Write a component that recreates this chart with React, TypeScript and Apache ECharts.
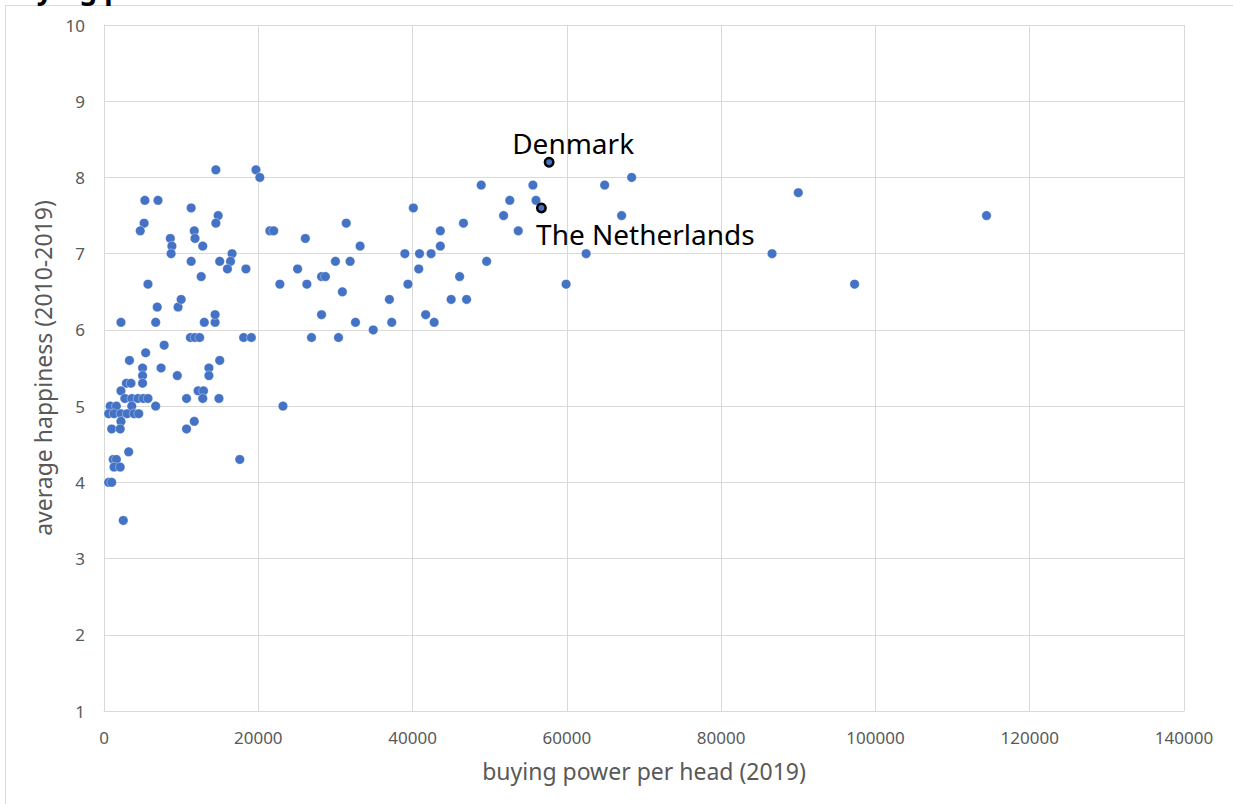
import React, { useEffect, useRef } from "react";
import * as echarts from "echarts";

const buyingPower = [
  14500, 19700, 20200, 5300, 7000, 11300, 14800, 14500, 5200, 4700,
  11700, 11800, 8600, 8800, 12800, 8700, 16600, 16400, 16000, 15000,
  11300, 18400, 12600, 5700, 6900, 9600, 10000, 2200, 6700, 13000,
  14400, 14400, 11200, 11800, 12400, 18100, 19100, 7800, 5400, 3300,
  7400, 5000, 5000, 5000, 15000, 13600, 13600, 9500, 2900, 3500,
  2200, 12200, 12900, 2700, 3600, 4400, 5100, 5700, 12800, 10700,
  14900, 800, 1600, 3600, 6700, 600, 1300, 2200, 3000, 3900,
  4500, 2200, 11700, 1000, 2100, 10700, 3200, 1200, 1600, 17600,
  1300, 2100, 600, 1000, 2500,
  21500, 22000, 26100, 33200, 31400, 25100, 30000, 31900, 22800, 26300,
  28200, 28700, 30900, 28200, 32600, 34900, 26900, 30400, 23200, 37000,
  37300, 39000, 40900, 42400, 40100, 40800, 39400, 41700, 42800, 43600,
  43600, 46600, 46100, 45000, 47000, 48900, 49600,
  51800, 52600, 53700, 55600, 56000, 59900, 62500, 64900, 68400, 67100,
  86600, 90000, 97300, 114400,
];

const happiness = [
  8.1, 8.1, 8.0, 7.7, 7.7, 7.6, 7.5, 7.4, 7.4, 7.3,
  7.3, 7.2, 7.2, 7.1, 7.1, 7.0, 7.0, 6.9, 6.8, 6.9,
  6.9, 6.8, 6.7, 6.6, 6.3, 6.3, 6.4, 6.1, 6.1, 6.1,
  6.1, 6.2, 5.9, 5.9, 5.9, 5.9, 5.9, 5.8, 5.7, 5.6,
  5.5, 5.5, 5.4, 5.3, 5.6, 5.5, 5.4, 5.4, 5.3, 5.3,
  5.2, 5.2, 5.2, 5.1, 5.1, 5.1, 5.1, 5.1, 5.1, 5.1,
  5.1, 5.0, 5.0, 5.0, 5.0, 4.9, 4.9, 4.9, 4.9, 4.9,
  4.9, 4.8, 4.8, 4.7, 4.7, 4.7, 4.4, 4.3, 4.3, 4.3,
  4.2, 4.2, 4.0, 4.0, 3.5,
  7.3, 7.3, 7.2, 7.1, 7.4, 6.8, 6.9, 6.9, 6.6, 6.6,
  6.7, 6.7, 6.5, 6.2, 6.1, 6.0, 5.9, 5.9, 5.0, 6.4,
  6.1, 7.0, 7.0, 7.0, 7.6, 6.8, 6.6, 6.2, 6.1, 7.3,
  7.1, 7.4, 6.7, 6.4, 6.4, 7.9, 6.9,
  7.5, 7.7, 7.3, 7.9, 7.7, 6.6, 7.0, 7.9, 8.0, 7.5,
  7.0, 7.8, 6.6, 7.5,
];

const highlightNames = ["Denmark", "The Netherlands"];
const highlightPower = [57700, 56700];
const highlightHappiness = [8.2, 7.6];

const titleText = "Buying power";
const xAxisTitle = "buying power per head (2019)";
const yAxisTitle = "average happiness (2010-2019)";

const FONT = '"Noto Sans", "Open Sans", sans-serif';
const GRAY = "#595959";
const GRID = "#d9d9d9";
const BLUE = "#4472C4";

export default function App() {
  const ref = useRef<HTMLDivElement>(null);

  useEffect(() => {
    if (!ref.current) return;
    const chart = echarts.init(ref.current, undefined, { renderer: "svg" });

    const mainData = buyingPower.map((x, i) => [x, happiness[i]]);
    const labelCfg = [
      { position: "top", distance: 3, offset: [24, 3] },
      { position: "bottom", distance: 2, offset: [104, 5] },
    ];
    const hlData = highlightNames.map((name, i) => ({
      name,
      value: [highlightPower[i], highlightHappiness[i]],
      label: {
        show: true,
        formatter: "{b}",
        color: "#000",
        fontSize: 28,
        fontFamily: FONT,
        ...labelCfg[i],
      },
    }));

    chart.setOption({
      animation: false,
      backgroundColor: "#fff",
      textStyle: { fontFamily: FONT },
      grid: { left: 104, top: 25, width: 1080, height: 686, containLabel: false },
      graphic: [
        {
          type: "rect",
          shape: { x: 5.5, y: 5.5, width: 1400, height: 1000 },
          style: { fill: "none", stroke: GRID, lineWidth: 1 },
          silent: true,
          z: -1,
        },
        {
          type: "text",
          x: 0,
          y: -26,
          style: {
            text: titleText,
            font: `bold 28px ${FONT}`,
            fill: "#000",
            verticalAlign: "top",
          },
        },
      ],
      xAxis: {
        type: "value",
        min: 0,
        max: 140000,
        interval: 20000,
        name: xAxisTitle,
        nameLocation: "middle",
        nameGap: 48,
        nameTextStyle: { fontSize: 23, color: GRAY, fontFamily: FONT },
        axisLine: { show: true, lineStyle: { color: GRID, width: 1 } },
        axisTick: { show: false },
        axisLabel: {
          color: GRAY,
          fontSize: 17,
          margin: 18,
          fontFamily: FONT,
          formatter: (v: number) => String(v),
        },
        splitLine: { show: true, lineStyle: { color: GRID, width: 1 } },
      },
      yAxis: {
        type: "value",
        min: 1,
        max: 10,
        interval: 1,
        name: yAxisTitle,
        nameLocation: "middle",
        nameGap: 44,
        nameTextStyle: { fontSize: 23, color: GRAY, fontFamily: FONT },
        axisLine: { show: true, lineStyle: { color: GRID, width: 1 } },
        axisTick: { show: false },
        axisLabel: { color: GRAY, fontSize: 17, margin: 19, fontFamily: FONT },
        splitLine: { show: true, lineStyle: { color: GRID, width: 1 } },
      },
      series: [
        {
          type: "scatter",
          data: mainData,
          symbol: "circle",
          symbolSize: 9.5,
          itemStyle: { color: BLUE, borderColor: "rgba(255,255,255,0.6)", borderWidth: 0.6, opacity: 1 },
          emphasis: { disabled: true },
        },
        {
          type: "scatter",
          data: hlData,
          symbol: "circle",
          symbolSize: 8.5,
          itemStyle: { color: BLUE, borderColor: "#000", borderWidth: 2.5, opacity: 1 },
          emphasis: { disabled: true },
          z: 3,
        },
      ],
    });

    return () => chart.dispose();
  }, []);

  return (
    <div
      ref={ref}
      style={{ position: "absolute", left: 0, top: 0, width: 1233, height: 804 }}
    />
  );
}
